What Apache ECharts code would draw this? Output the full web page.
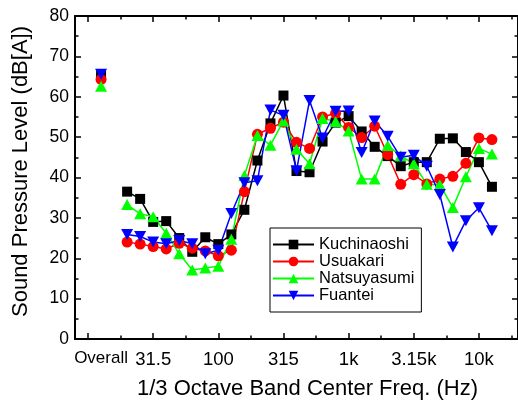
<!DOCTYPE html>
<html><head><meta charset="utf-8">
<script src="https://cdn.jsdelivr.net/npm/echarts@6/dist/echarts.min.js"></script>
<style>html,body{margin:0;padding:0;background:#fff}#c{width:518px;height:405px}</style>
</head><body><div id="c"></div>
<script>
// Categories: overall level + 1/3 octave band centre frequencies
const categories = ['Overall','20','25','31.5','40','50','63','80','100','125','160','200','250','315','400','500','630','800','1k','1.25k','1.6k','2k','2.5k','3.15k','4k','5k','6.3k','8k','10k','12.5k'];
// Position of each category on the x scale (band number; Overall set apart)
const bandNumbers = [11,13,14,15,16,17,18,19,20,21,22,23,24,25,26,27,28,29,30,31,32,33,34,35,36,37,38,39,40,41];
// Sound pressure level, dB(A)
const kuchinaoshi = [65.2,36.5,34.7,29.0,29.2,25.0,21.6,25.2,23.5,25.9,32.0,44.2,53.4,60.3,41.6,41.3,48.9,53.6,55.2,51.4,47.6,45.3,42.8,43.8,43.8,49.6,49.7,46.3,43.8,37.7];
const usuakari    = [64.3,24.0,23.5,22.9,22.3,23.7,22.5,21.8,20.6,22.0,36.5,50.7,52.2,53.7,48.7,47.2,55.0,55.9,52.4,49.9,52.7,45.7,38.3,40.7,38.4,39.6,40.3,43.5,49.8,49.4];
const natsuyasumi = [62.6,33.3,31.0,30.3,26.2,21.1,17.1,17.6,18.0,24.7,40.5,50.4,48.0,54.0,47.0,43.4,54.6,53.9,51.5,39.6,39.6,47.9,45.4,43.4,38.3,38.2,32.6,40.2,47.2,45.8];
const fuantei     = [65.6,25.9,25.4,24.0,23.6,24.4,23.6,21.1,22.0,31.1,38.7,39.2,56.7,55.4,41.7,59.1,49.8,56.4,56.5,46.2,54.0,50.2,45.0,45.5,42.8,35.8,22.8,29.3,32.5,26.8];
// Tick labels on the x axis
const tickLabelPositions = [11,15,20,25,30,35,40];
const tickLabelTexts = ['Overall','31.5','100','315','1k','3.15k','10k'];
const majorTicksX = [10,15,20,25,30,35,40];
const minorTicksX = [12.5,17.5,22.5,27.5,32.5,37.5,42.5];

const FONT = '"Liberation Sans", Arial, Helvetica, sans-serif';

function build(vals){
  const out = [];
  for (let i = 0; i < vals.length; i++) {
    out.push([bandNumbers[i], vals[i]]);
    if (i === 0) out.push([12, '-']); // break between Overall and spectrum
  }
  return out;
}
function labelFor(v){
  for (let i = 0; i < tickLabelPositions.length; i++) {
    if (Math.abs(tickLabelPositions[i] - v) < 1e-6) {
      return i === 0 ? '{o|' + tickLabelTexts[i] + '}' : tickLabelTexts[i];
    }
  }
  return '';
}

const chart = echarts.init(document.getElementById('c'), null, {renderer:'canvas'});
const blk = '#000';
const xBase = {type:'value', min:9, max:43, splitLine:{show:false}};
const opt = {
  animation:false,
  backgroundColor:'#fff',
  grid:{left:75, right:-4, top:16, bottom:61, containLabel:false},
  legend:{
    orient:'vertical', left:270, top:228, padding:[8,7,8,2], itemGap:0,
    itemWidth:41, itemHeight:12, borderColor:'#000', borderWidth:1, backgroundColor:'#fff',
    textStyle:{fontSize:16.5, color:'#000', fontFamily:FONT},
    data:['Kuchinaoshi','Usuakari','Natsuyasumi','Fuantei']
  },
  xAxis:[
    Object.assign({}, xBase, {position:'bottom',
      axisLine:{show:true, lineStyle:{color:blk, width:2}},
      axisTick:{show:true, inside:true, length:6, lineStyle:{color:blk, width:1.5}, customValues:majorTicksX},
      axisLabel:{show:true, customValues:tickLabelPositions, formatter:labelFor, fontSize:18.5, color:blk, fontFamily:FONT, margin:11,
        rich:{o:{fontSize:17, fontFamily:FONT, color:blk}}},
      name:'1/3 Octave Band Center Freq. (Hz)', nameLocation:'middle', nameGap:39,
      nameTextStyle:{fontSize:22, color:blk, fontFamily:FONT, padding:[0,0,0,22]}}),
    Object.assign({}, xBase, {position:'bottom',
      axisLine:{show:false},
      axisTick:{show:true, inside:true, length:3.5, lineStyle:{color:blk, width:1.5}, customValues:minorTicksX},
      axisLabel:{show:false}}),
    Object.assign({}, xBase, {position:'top',
      axisLine:{show:true, lineStyle:{color:blk, width:2}},
      axisTick:{show:true, inside:true, length:6, lineStyle:{color:blk, width:1.5}, customValues:majorTicksX},
      axisLabel:{show:false}}),
    Object.assign({}, xBase, {position:'top',
      axisLine:{show:false},
      axisTick:{show:true, inside:true, length:3.5, lineStyle:{color:blk, width:1.5}, customValues:minorTicksX},
      axisLabel:{show:false}})
  ],
  yAxis:[
    {type:'value', position:'left', min:0, max:80, interval:10, splitLine:{show:false},
      axisLine:{show:true, lineStyle:{color:blk, width:2}},
      axisTick:{show:true, inside:true, length:6, lineStyle:{color:blk, width:1.5}},
      minorTick:{show:true, splitNumber:2, length:3.5, lineStyle:{color:blk, width:1.5}},
      axisLabel:{fontSize:17.5, color:blk, fontFamily:FONT, margin:6},
      name:'Sound Pressure Level (dB[A])', nameLocation:'middle', nameGap:43,
      nameTextStyle:{fontSize:22, color:blk, fontFamily:FONT, padding:[0,0,0,12]}},
    {type:'value', position:'right', min:0, max:80, interval:10, splitLine:{show:false},
      axisLine:{show:true, lineStyle:{color:blk, width:2}},
      axisTick:{show:true, inside:true, length:6, lineStyle:{color:blk, width:1.5}},
      minorTick:{show:true, splitNumber:2, length:3.5, lineStyle:{color:blk, width:1.5}},
      axisLabel:{show:false}}
  ],
  series:[
    {name:'Kuchinaoshi', type:'line', xAxisIndex:0, yAxisIndex:0, data:build(kuchinaoshi),
      symbol:'rect', symbolSize:10, connectNulls:false,
      lineStyle:{color:'#000', width:1.5}, itemStyle:{color:'#000'}},
    {name:'Usuakari', type:'line', xAxisIndex:0, yAxisIndex:0, data:build(usuakari),
      symbol:'circle', symbolSize:11, connectNulls:false,
      lineStyle:{color:'#ff0000', width:1.5}, itemStyle:{color:'#ff0000'}},
    {name:'Natsuyasumi', type:'line', xAxisIndex:0, yAxisIndex:0, data:build(natsuyasumi),
      symbol:'triangle', symbolSize:[12,11], connectNulls:false,
      lineStyle:{color:'#00ff00', width:1.5}, itemStyle:{color:'#00ff00'}},
    {name:'Fuantei', type:'line', xAxisIndex:0, yAxisIndex:0, data:build(fuantei),
      symbol:'triangle', symbolRotate:180, symbolSize:[12,11], connectNulls:false,
      lineStyle:{color:'#0000ff', width:1.5}, itemStyle:{color:'#0000ff'}}
  ]
};
chart.setOption(opt);
</script>
</body></html>
